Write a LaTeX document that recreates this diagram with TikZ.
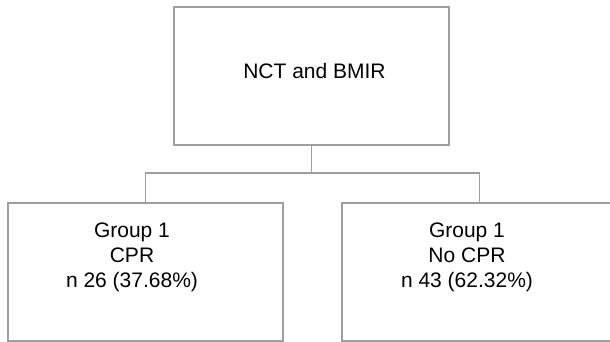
\documentclass[tikz,border=0pt]{standalone}
\usepackage{fontspec}
\setmainfont{Liberation Sans}
\definecolor{linegray}{RGB}{158,158,158}
\begin{document}
\begin{tikzpicture}[x=1pt,y=-1pt,
  box/.style={draw=linegray, line width=1.1pt, minimum width=275pt, minimum height=138pt, inner sep=0pt, outer sep=0pt},
  lbl/.style={font=\fontsize{21}{25}\selectfont, anchor=base, inner sep=0pt, text=black},
  conn/.style={draw=linegray, line width=1.1pt}]
\useasboundingbox (0,0) rectangle (610,342);
\clip (0,0) rectangle (610,342);
\node[box] (top) at (311.5,76) {};
\node[box] (left) at (145.5,272) {};
\node[box] (right) at (479.5,272) {};
\node[lbl] (toptext) at (314.5,79) {NCT and BMIR};
\node[lbl] (l1) at (132,237) {Group 1};
\node[lbl] (l2) at (132,262) {CPR};
\node[lbl] (l3) at (132,287) {n 26 (37.68\%)};
\node[lbl] (r1) at (467,237) {Group 1};
\node[lbl] (r2) at (467,262) {No CPR};
\node[lbl] (r3) at (467,287) {n 43 (62.32\%)};
\coordinate (forkc) at (311.5,173);
\coordinate (forkl) at (145.5,173);
\coordinate (forkr) at (479.5,173);
\draw[conn] (top.south) -- (forkc);
\draw[conn] (left.north) -- (forkl) -- (forkr) -- (right.north);
\end{tikzpicture}
\end{document}
